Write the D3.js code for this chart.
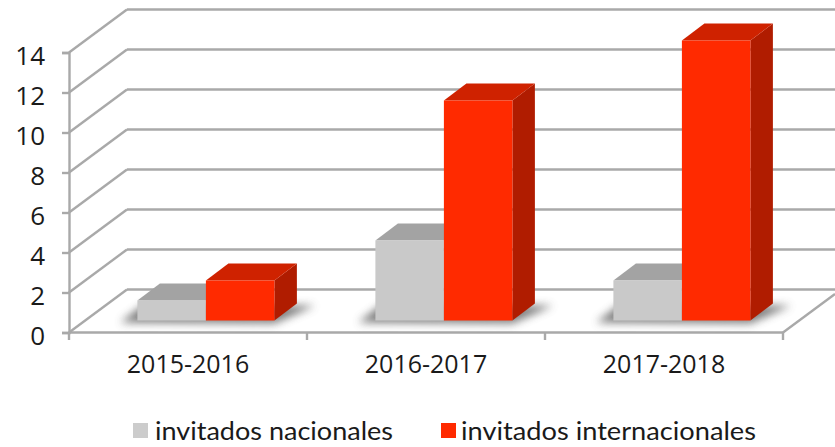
<!DOCTYPE html>
<html lang="en">
<head>
<meta charset="utf-8">
<script src="https://d3js.org/d3.v7.min.js"></script>
<style>
  html, body {margin: 0; padding: 0; background: #fff;}
  svg {display: block;}
  text {fill: #1a1a1a;}
</style>
</head>
<body>
<svg width="835" height="447"></svg>
<script>
var categories = ["2015-2016", "2016-2017", "2017-2018"];
var nacionales = [1, 4, 2];
var internacionales = [2, 11, 14];
var yTicks = [0, 2, 4, 6, 8, 10, 12, 14];
var seriesNames = ["invitados nacionales", "invitados internacionales"];

var grid = "#a9a9a9";
var lineW = 2.4;
var svg = d3.select("svg");

var x = d3.scaleBand().domain(categories).range([69, 783]);
var y = d3.scaleLinear().domain([0, 14]).range([332.5, 52.5]);

// how far the back wall sits from the front plane
var wallX = 58, wallY = -43;
// bars stand a bit inside the floor
var barLift = -12, barDx = 22.5, barDy = -17;
var barPad = 68.4, barW = 68.5;

var defs = svg.append("defs");
defs.append("filter").attr("id", "blur")
  .attr("x", "-20%").attr("y", "-60%").attr("width", "140%").attr("height", "220%")
  .append("feGaussianBlur").attr("stdDeviation", 4);

// back wall + side wall lines
yTicks.forEach(function(t) {
  svg.append("line")
    .attr("x1", 69 + wallX).attr("x2", 835)
    .attr("y1", y(t) + wallY).attr("y2", y(t) + wallY)
    .attr("stroke", grid).attr("stroke-width", lineW);
  svg.append("line")
    .attr("x1", 69).attr("x2", 69 + wallX)
    .attr("y1", y(t)).attr("y2", y(t) + wallY)
    .attr("stroke", grid).attr("stroke-width", lineW);
});

// floor edge on the right
svg.append("line")
  .attr("x1", 783).attr("x2", 835)
  .attr("y1", y(0)).attr("y2", y(0) - 38.5)
  .attr("stroke", grid).attr("stroke-width", lineW);

// left axis
var yAxis = d3.axisLeft(y).tickValues(yTicks).tickSize(7).tickPadding(17);
var gy = svg.append("g").attr("transform", "translate(69,0)").call(yAxis);
gy.selectAll("path, line").attr("stroke", grid).attr("stroke-width", lineW);
gy.selectAll("text").attr("font-family", "Open Sans").attr("font-size", 26).attr("fill", "#222")
  .attr("dy", "0.45em");

// bottom axis, labels from the band scale, ticks at the band edges
var xAxis = d3.axisBottom(x).tickSize(0).tickPadding(23);
var gx = svg.append("g").attr("transform", "translate(0,332)").call(xAxis);
gx.select("path").remove();
gx.selectAll("text").attr("font-family", "Open Sans").attr("font-size", 25).attr("fill", "#222");
svg.append("line").attr("x1", 69).attr("x2", 783).attr("y1", y(0)).attr("y2", y(0))
  .attr("stroke", grid).attr("stroke-width", lineW);
categories.concat(["end"]).forEach(function(c, i) {
  var px = 69 + i * x.step();
  svg.append("line").attr("x1", px).attr("x2", px).attr("y1", 332).attr("y2", 340)
    .attr("stroke", grid).attr("stroke-width", lineW);
});

function pts(a) { return a.map(function(p) { return p.join(","); }).join(" "); }

var base = y(0) + barLift;

// shadows on the floor
categories.forEach(function(c) {
  var l = x(c) + barPad, r = l + 2 * barW;
  svg.append("polygon")
    .attr("points", pts([[l - 17, base + 2], [r, base + 3], [r + barDx + 18, base + barDy + 2], [l + 5, base + barDy + 2]]))
    .attr("fill", "#666").attr("opacity", 0.85).attr("filter", "url(#blur)");
});

function drawBar(c, v, slot, front, top, side) {
  var l = x(c) + barPad + slot * barW, r = l + barW;
  var t = base - (y(0) - y(v));
  svg.append("polygon")
    .attr("points", pts([[r, t], [r + barDx, t + barDy], [r + barDx, base + barDy], [r, base]]))
    .attr("fill", side);
  svg.append("polygon")
    .attr("points", pts([[l, t], [l + barDx, t + barDy], [r + barDx, t + barDy], [r, t]]))
    .attr("fill", top);
  svg.append("rect")
    .attr("x", l).attr("y", t).attr("width", barW).attr("height", base - t)
    .attr("fill", front);
}

categories.forEach(function(c, i) {
  drawBar(c, nacionales[i], 0, "#c9c9c9", "#a3a3a3", "#8e8e8e");
  drawBar(c, internacionales[i], 1, "#ff2a00", "#cf2200", "#b01c00");
});

// legend
var legendX = [133, 441], textX = [155, 461], textW = [238, 295], legendColor = ["#cccccc", "#ff2a00"];
seriesNames.forEach(function(name, i) {
  svg.append("rect").attr("x", legendX[i]).attr("y", 423).attr("width", 15).attr("height", 15)
    .attr("fill", legendColor[i]);
  svg.append("text").attr("x", textX[i]).attr("y", 440)
    .attr("font-family", "Lato").attr("font-size", 25)
    .attr("textLength", textW[i]).attr("lengthAdjust", "spacingAndGlyphs")
    .text(name);
});
</script>
</body>
</html>
